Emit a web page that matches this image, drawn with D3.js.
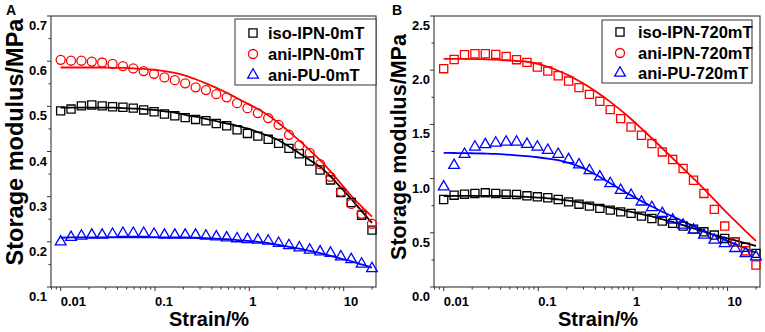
<!DOCTYPE html>
<html><head><meta charset="utf-8">
<script src="https://cdn.jsdelivr.net/npm/d3@7"></script>
<style>
body{margin:0;background:#fff;}
svg text{font-family:"Liberation Sans",Arial,sans-serif;font-weight:bold;}
</style></head>
<body><svg id="c" width="765" height="332"></svg>
<script>
const strain = [0.01,0.01288,0.0166,0.02138,0.02754,0.03548,0.0457,0.05888,0.07585,0.09771,0.1259,0.1622,0.2089,0.2691,0.3467,0.4466,0.5753,0.7411,0.9547,1.23,1.584,2.041,2.629,3.387,4.363,5.621,7.241,9.328,12.02,15.48,19.94];

// Panel A (0 mT)
const isoIPN0 = [0.490,0.494,0.501,0.503,0.501,0.499,0.498,0.496,0.492,0.488,0.483,0.479,0.475,0.471,0.468,0.462,0.457,0.448,0.440,0.434,0.427,0.418,0.407,0.395,0.379,0.359,0.337,0.309,0.287,0.259,0.226];
const aniIPN0 = [0.603,0.601,0.601,0.599,0.597,0.594,0.589,0.584,0.578,0.572,0.564,0.558,0.551,0.542,0.536,0.527,0.520,0.507,0.496,0.485,0.474,0.459,0.437,0.414,0.397,0.372,0.344,0.311,0.284,0.262,0.240];
const aniPU0 = [0.200,0.210,0.213,0.215,0.215,0.217,0.219,0.219,0.219,0.217,0.215,0.215,0.215,0.215,0.213,0.211,0.209,0.207,0.205,0.204,0.202,0.197,0.192,0.187,0.182,0.178,0.175,0.167,0.161,0.151,0.141];
const isoIPN0Fit = [0.497,0.497,0.497,0.497,0.497,0.497,0.496,0.495,0.494,0.492,0.489,0.486,0.481,0.477,0.472,0.467,0.462,0.457,0.451,0.443,0.435,0.425,0.411,0.396,0.381,0.366,0.345,0.320,0.295,0.268,0.242];
const aniIPN0Fit = [0.586,0.586,0.586,0.586,0.586,0.585,0.585,0.584,0.583,0.581,0.578,0.574,0.568,0.560,0.551,0.541,0.530,0.518,0.506,0.494,0.480,0.463,0.444,0.424,0.403,0.381,0.356,0.329,0.302,0.278,0.256];
const aniPU0Fit = [0.209,0.210,0.210,0.210,0.210,0.210,0.210,0.210,0.210,0.210,0.210,0.210,0.210,0.209,0.208,0.207,0.206,0.204,0.202,0.200,0.197,0.193,0.189,0.185,0.180,0.175,0.169,0.163,0.157,0.150,0.143];

// Panel B (720 mT)
const isoIPN720 = [0.807,0.847,0.856,0.863,0.869,0.863,0.856,0.853,0.841,0.832,0.823,0.807,0.785,0.764,0.746,0.725,0.709,0.693,0.679,0.654,0.632,0.608,0.587,0.562,0.534,0.509,0.479,0.448,0.417,0.366,0.310];
const aniIPN720 = [2.014,2.099,2.143,2.152,2.152,2.146,2.127,2.097,2.072,2.029,1.992,1.949,1.900,1.839,1.777,1.713,1.636,1.553,1.476,1.400,1.323,1.246,1.176,1.093,0.985,0.863,0.716,0.562,0.417,0.334,0.203];
const aniPU720 = [0.924,1.123,1.225,1.292,1.314,1.329,1.338,1.338,1.317,1.292,1.262,1.225,1.176,1.128,1.075,1.016,0.955,0.893,0.847,0.785,0.734,0.679,0.617,0.571,0.525,0.479,0.433,0.402,0.356,0.310,0.279];
const isoIPN720Fit = [0.838,0.840,0.841,0.841,0.841,0.840,0.838,0.835,0.831,0.825,0.818,0.808,0.797,0.783,0.768,0.752,0.733,0.714,0.694,0.673,0.651,0.625,0.600,0.570,0.540,0.510,0.480,0.455,0.430,0.405,0.380];
const aniIPN720Fit = [2.105,2.105,2.104,2.103,2.101,2.098,2.092,2.085,2.078,2.058,2.030,1.995,1.952,1.900,1.843,1.778,1.708,1.632,1.550,1.462,1.372,1.280,1.187,1.094,1.000,0.905,0.805,0.705,0.610,0.515,0.425];
const aniPU720Fit = [1.237,1.236,1.235,1.233,1.231,1.228,1.222,1.215,1.207,1.197,1.185,1.170,1.145,1.112,1.068,1.015,0.958,0.900,0.845,0.792,0.742,0.694,0.650,0.607,0.563,0.519,0.476,0.435,0.395,0.355,0.316];

const labelsA = ["iso-IPN-0mT","ani-IPN-0mT","ani-PU-0mT"];
const labelsB = ["iso-IPN-720mT","ani-IPN-720mT","ani-PU-720mT"];
const xTickVals = [0.01,0.1,1,10];
const xTickLabels = ["0.01","0.1","1","10"];
const yTicksA = [0.1,0.2,0.3,0.4,0.5,0.6,0.7];
const yTicksB = [0.0,0.5,1.0,1.5,2.0,2.5];
const xTitle = "Strain/%";
const yTitle = "Storage modulus/MPa";

const svg = d3.select("#c");
const colors = ["#000000","#ff0000","#0000ff"];

function drawPanel(cfg){
  const g = svg.append("g");
  const x = d3.scaleLog().domain([0.0079,22]).range([cfg.left, cfg.right]);
  const y = d3.scaleLinear().domain(cfg.yDomain).range([cfg.bottom, cfg.top]);
  g.append("rect").attr("x",cfg.left).attr("y",cfg.top).attr("width",cfg.right-cfg.left).attr("height",cfg.bottom-cfg.top)
    .attr("fill","none").attr("stroke","#444").attr("stroke-width",1.2);
  const minor = [];
  for (let d=0.001; d<100; d*=10) for (let k=1;k<10;k++){ const v=+(d*k).toPrecision(3); if(v>=0.0079 && v<=22) minor.push(v);}
  g.selectAll(".xt").data(minor).enter().append("line")
    .attr("x1",d=>x(d)).attr("x2",d=>x(d)).attr("y1",cfg.bottom)
    .attr("y2",d=>cfg.bottom + (xTickVals.some(t=>Math.abs(t-d)<1e-9)?4:2.5))
    .attr("stroke","#333").attr("stroke-width",1);
  g.selectAll(".xl").data(xTickVals).enter().append("text")
    .attr("x",d=>x(d)).attr("y",cfg.bottom+19).attr("font-size",13).attr("text-anchor","start")
    .text((d,i)=>xTickLabels[i]);
  const step = cfg.yTicks[1]-cfg.yTicks[0];
  const yMinor = [];
  for (let i=0;i<cfg.yTicks.length-1;i++) yMinor.push(cfg.yTicks[i]+step/2);
  g.selectAll(".ym").data(yMinor).enter().append("line")
    .attr("x1",cfg.left-2.5).attr("x2",cfg.left).attr("y1",d=>y(d)).attr("y2",d=>y(d)).attr("stroke","#333");
  g.selectAll(".yM").data(cfg.yTicks).enter().append("line")
    .attr("x1",cfg.left-4).attr("x2",cfg.left).attr("y1",d=>y(d)).attr("y2",d=>y(d)).attr("stroke","#333");
  g.selectAll(".yl").data(cfg.yTicks).enter().append("text")
    .attr("x",cfg.left-4).attr("y",d=>y(d)+14).attr("font-size",13).attr("text-anchor","end")
    .text(d=>d.toFixed(1));
  g.append("text").attr("x",cfg.xTitleX).attr("y",326).attr("font-size",20).attr("text-anchor","middle").text(xTitle);
  g.append("text").attr("transform",`translate(${cfg.yTitleX},${cfg.yTitleY}) rotate(-90)`)
    .attr("font-size",cfg.yTitleSize).attr("text-anchor","middle").text(yTitle);
  g.append("text").attr("x",cfg.letterX).attr("y",15).attr("font-size",14).text(cfg.letter);

  const line = d3.line().x((d,i)=>x(strain[i])).y(d=>y(d)).curve(d3.curveMonotoneX);
  cfg.fits.forEach((f,k)=>{
    g.append("path").attr("d",line(f)).attr("fill","none").attr("stroke",colors[k]).attr("stroke-width",1.8);
  });
  cfg.series.forEach((s,k)=>{
    const sym = d3.symbol().type(cfg.shapes[k]).size(cfg.symSize[k]);
    g.selectAll(null).data(s).enter().append("path")
      .attr("d",sym).attr("transform",(d,i)=>`translate(${x(strain[i])},${y(d)})`)
      .attr("fill","none").attr("stroke",colors[k]).attr("stroke-width",1.3);
  });
  const L = cfg.legend;
  g.append("rect").attr("x",L.x).attr("y",L.y).attr("width",L.w).attr("height",L.h)
    .attr("fill","#fff").attr("stroke","#333").attr("stroke-width",1);
  cfg.labels.forEach((lab,k)=>{
    const cy = L.rows[k];
    g.append("path").attr("d",d3.symbol().type(L.shapes[k]).size(L.sizes[k])())
      .attr("transform",`translate(${L.symX},${cy})`).attr("fill","none").attr("stroke",colors[k]).attr("stroke-width",1.3);
    g.append("text").attr("x",L.textX).attr("y",cy+6).attr("font-size",L.fs).text(lab);
  });
}

drawPanel({
  left:51,right:376,top:16,bottom:287,yDomain:[0.1,0.7],yTicks:yTicksA,xTitleX:209,
  yTitleX:23,yTitleY:142,yTitleSize:23.5,letter:"A",letterX:6,
  series:[isoIPN0,aniIPN0,aniPU0],fits:[isoIPN0Fit,aniIPN0Fit,aniPU0Fit],
  shapes:[d3.symbolSquare,d3.symbolCircle,d3.symbolTriangle],symSize:[66,64,50],
  labels:labelsA,
  legend:{x:235,y:19,w:141,h:66,rows:[33,54,75],symX:253,textX:268,fs:16.5,
          shapes:[d3.symbolSquare,d3.symbolCircle,d3.symbolTriangle],sizes:[66,64,50]}
});
drawPanel({
  left:434,right:760,top:16,bottom:287,yDomain:[0,2.5],yTicks:yTicksB,xTitleX:598,
  yTitleX:406,yTitleY:147,yTitleSize:21.5,letter:"B",letterX:392,
  series:[isoIPN720,aniIPN720,aniPU720],
  fits:[isoIPN720Fit,aniIPN720Fit,aniPU720Fit],
  shapes:[d3.symbolSquare,d3.symbolSquare,d3.symbolTriangle],symSize:[66,66,50],
  labels:labelsB,
  legend:{x:602,y:20,w:150,h:63,rows:[32,53,73],symX:620,textX:638,fs:16.5,
          shapes:[d3.symbolSquare,d3.symbolCircle,d3.symbolTriangle],sizes:[66,64,50]}
});
</script></body></html>
